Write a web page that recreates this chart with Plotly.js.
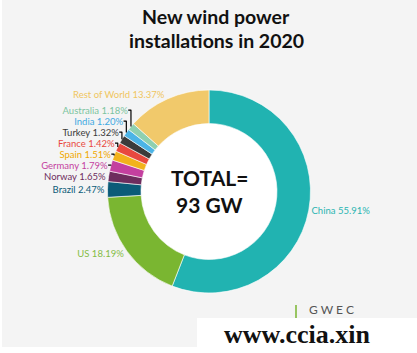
<!DOCTYPE html>
<html>
<head>
<meta charset="utf-8">
<script src="https://cdn.plot.ly/plotly-3.0.1.min.js"></script>
<style>
html,body{margin:0;padding:0;background:#fff;}
#chart{width:417px;height:353px;}
</style>
</head>
<body>
<div id="chart"></div>
<script>
const countries = ["China","US","Brazil","Norway","Germany","Spain","France","Turkey","India","Australia","Rest of World"];
const shares = [55.91,18.19,2.47,1.65,1.79,1.51,1.42,1.32,1.20,1.18,13.37];
const sliceColors = ["#21b3b1","#7ab631","#0b5b78","#6e2c5e","#c43f9f","#f2b21c","#e8493f","#3b3b3b","#4cb4e6","#8fd0b0","#f1c96b"];
const labelColors = ["#2ab4b2","#84bd45","#0b5b78","#6e2c5e","#c43f9f","#f0a800","#e8493f","#3b3b3b","#3fa9e2","#7cc4a0","#f0c660"];
const titleLines = ["New wind power","installations in 2020"];
const centerLines = ["TOTAL=","93 GW"];
const logoText = "G W E C";
const watermark = "www.ccia.xin";

const W = 417, H = 353;
const cx = 209, cy = 191.5, R = 101.5, r = 68;

const trace = {
  type: "pie",
  labels: countries,
  values: shares,
  sort: false,
  direction: "clockwise",
  rotation: 0,
  hole: r / R,
  marker: {colors: sliceColors, line: {color: "#ffffff", width: 0.6}},
  textposition: "outside",
  texttemplate: "%{label} %{value:.2f}%",
  textfont: {family: "Lato, 'Open Sans', sans-serif", size: 9.5, color: labelColors},
  showlegend: false,
  hoverinfo: "none",
  automargin: false,
  domain: {x: [(cx - R) / W, (cx + R) / W], y: [(H - cy - R) / H, (H - cy + R) / H]}
};

const layout = {
  width: W, height: H,
  margin: {l: 0, r: 0, t: 0, b: 0},
  paper_bgcolor: "#f4f4f4",
  showlegend: false,
  shapes: [
    {type: "circle", xref: "paper", yref: "paper", layer: "below",
     x0: (cx - r) / W, x1: (cx + r) / W, y0: (H - cy - r) / H, y1: (H - cy + r) / H,
     fillcolor: "#ffffff", line: {width: 0}},
    {type: "rect", xref: "paper", yref: "paper", layer: "above",
     x0: 0, x1: 1, y0: 0, y1: 6 / H, fillcolor: "#ffffff", line: {width: 0}},
    {type: "rect", xref: "paper", yref: "paper", layer: "above",
     x0: 0, x1: 2 / W, y0: 0, y1: 1, fillcolor: "#ffffff", line: {width: 0}},
    {type: "rect", xref: "paper", yref: "paper", layer: "above",
     x0: 197 / W, x1: 1, y0: 0, y1: (H - 318) / H, fillcolor: "#ffffff", line: {width: 0}},
    {type: "line", xref: "paper", yref: "paper", layer: "above",
     x0: 296 / W, x1: 296 / W, y0: (H - 318) / H, y1: (H - 305) / H,
     line: {color: "#7ab631", width: 1.5}}
  ],
  annotations: [
    {xref: "paper", yref: "paper", x: 216 / W, y: (H - 16) / H, xanchor: "center", yanchor: "middle",
     text: "<b>" + titleLines[0] + "</b>", showarrow: false,
     font: {family: "Lato, 'Open Sans', sans-serif", size: 19.5, color: "#111111"}},
    {xref: "paper", yref: "paper", x: 216 / W, y: (H - 40) / H, xanchor: "center", yanchor: "middle",
     text: "<b>" + titleLines[1] + "</b>", showarrow: false,
     font: {family: "Lato, 'Open Sans', sans-serif", size: 19.5, color: "#111111"}},
    {xref: "paper", yref: "paper", x: 209 / W, y: (H - 177) / H, xanchor: "center", yanchor: "middle",
     text: "<b>" + centerLines[0] + "</b>", showarrow: false,
     font: {family: "Lato, 'Open Sans', sans-serif", size: 21, color: "#111111"}},
    {xref: "paper", yref: "paper", x: 209 / W, y: (H - 204) / H, xanchor: "center", yanchor: "middle",
     text: "<b>" + centerLines[1] + "</b>", showarrow: false,
     font: {family: "Lato, 'Open Sans', sans-serif", size: 21, color: "#111111"}},
    {xref: "paper", yref: "paper", x: 308 / W, y: (H - 318) / H, xanchor: "left", yanchor: "bottom",
     text: logoText, showarrow: false, borderpad: 0,
     font: {family: "Lato, 'Open Sans', sans-serif", size: 12, color: "#555555"}},
    {xref: "paper", yref: "paper", x: 296.5 / W, y: (H - 334) / H, xanchor: "center", yanchor: "middle",
     text: "<b>" + watermark + "</b>", showarrow: false,
     font: {family: "'Liberation Serif', 'Times New Roman', serif", size: 26, color: "#111111"}}
  ]
};

Plotly.newPlot("chart", [trace], layout, {displayModeBar: false, staticPlot: true});
</script>
</body>
</html>
